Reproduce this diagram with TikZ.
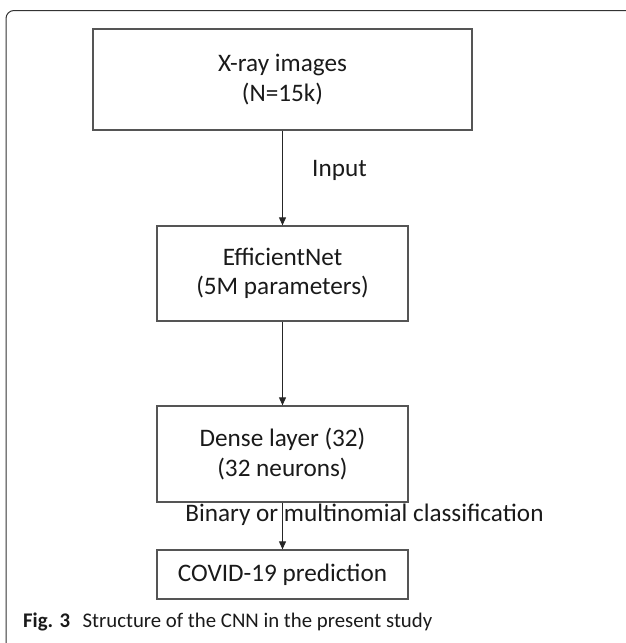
\documentclass[tikz,border=0pt]{standalone}
\usepackage{fontspec}
\setmainfont{Carlito}
\usetikzlibrary{arrows.meta}
\definecolor{boxline}{HTML}{555555}
\definecolor{frameline}{HTML}{333333}
\definecolor{txt}{HTML}{1A1A1A}
\tikzset{
  blk/.style={draw=boxline, line width=1.3pt, rectangle, align=center, text=txt,
    font=\fontsize{25.2}{29.5}\selectfont, inner sep=0pt},
  lbl/.style={text=txt, font=\fontsize{25.2}{29.5}\selectfont, inner sep=0pt},
  arr/.style={draw=black!85, line width=1pt, -{Triangle[length=8pt,width=7pt]}},
}
\begin{document}
\begin{tikzpicture}[x=1pt,y=-1pt]
\useasboundingbox (0,0) rectangle (626,643);
\draw[frameline, line width=1pt, rounded corners=8pt] (6,10.5) rectangle (633,651);
\node[blk, minimum width=379pt, minimum height=101pt] (xray) at (282.5,79.5) {X-ray images\\(N=15k)};
\node[blk, minimum width=251pt, minimum height=95pt] (eff) at (282.5,273.5) {EfficientNet\\(5M parameters)};
\node[blk, minimum width=251pt, minimum height=96pt] (dense) at (282.5,454) {Dense layer (32)\\(32 neurons)};
\node[blk, minimum width=251pt, minimum height=49pt] (covid) at (282.5,574.5) {COVID-19 prediction};
\node[lbl] (input) at (339.5,170) {Input};
\node[lbl] (cls) at (364.5,515) {Binary or multinomial classifica\kern0pt tion};
\draw[arr] (xray.south) -- (eff.north);
\draw[arr] (eff.south) -- (dense.north);
\draw[arr] (dense.south) -- (covid.north);
\node[anchor=west, inner sep=0pt, text=txt, font=\fontsize{20.8}{24}\selectfont] (cap) at (23,622) {\textbf{Fig. 3}\hspace{0.6em}Structure of the CNN in the present study};
\end{tikzpicture}
\end{document}
